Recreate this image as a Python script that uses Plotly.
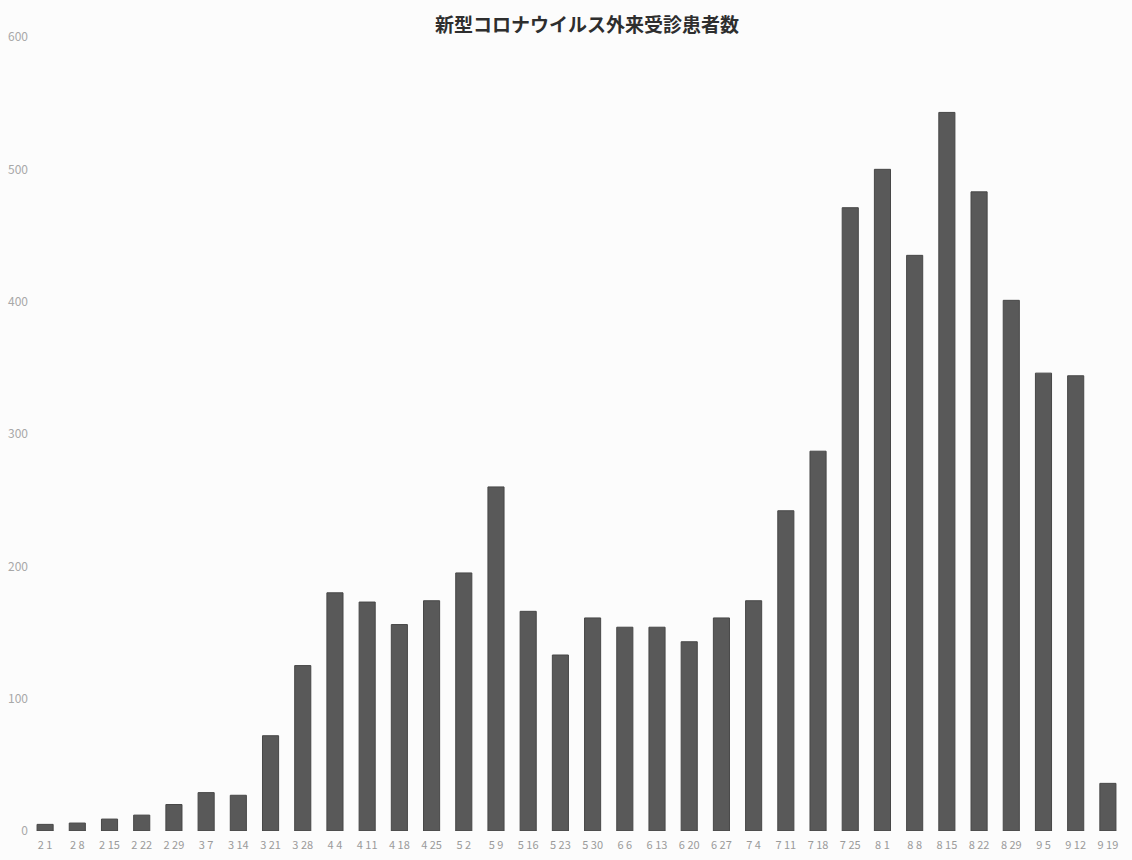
import plotly.graph_objects as go

# Weekly outpatient counts (week starting dates)
weeks = [
    "2 1", "2 8", "2 15", "2 22", "2 29", "3 7", "3 14", "3 21", "3 28",
    "4 4", "4 11", "4 18", "4 25", "5 2", "5 9", "5 16", "5 23", "5 30",
    "6 6", "6 13", "6 20", "6 27", "7 4", "7 11", "7 18", "7 25",
    "8 1", "8 8", "8 15", "8 22", "8 29", "9 5", "9 12", "9 19",
]
patients = [
    5, 6, 9, 12, 20, 29, 27, 72, 125,
    180, 173, 156, 174, 195, 260, 166, 133, 161,
    154, 154, 143, 161, 174, 242, 287, 471,
    500, 435, 543, 483, 401, 346, 344, 36,
]
y_ticks = [0, 100, 200, 300, 400, 500, 600]

title_text = "新型コロナウイルス外来受診患者数"

fig = go.Figure(
    go.Bar(
        x=weeks,
        y=patients,
        marker=dict(color="#595959", line=dict(color="#474747", width=1)),
        hoverinfo="x+y",
    )
)

fig.update_layout(
    width=1132,
    height=860,
    margin=dict(l=29, r=8, t=37, b=26),
    paper_bgcolor="#fcfcfc",
    plot_bgcolor="#fcfcfc",
    bargap=0.5,
    showlegend=False,
    font=dict(family="Noto Sans CJK JP, Noto Sans, sans-serif", color="#a0a0a0"),
    title=dict(
        text=title_text,
        x=587 / 1132,
        xanchor="center",
        y=1 - 25 / 860,
        yanchor="middle",
        font=dict(size=19, color="#2e2e2e", family="Noto Sans CJK JP", weight="bold"),
    ),
    xaxis=dict(
        type="category",
        showgrid=False,
        showline=False,
        zeroline=False,
        ticks="",
        tickangle=0,
        ticklabelstandoff=6,
        tickfont=dict(size=11, color="#9a9a9a"),
    ),
    yaxis=dict(
        range=[0, 600],
        tickvals=y_ticks,
        showgrid=False,
        showline=False,
        zeroline=False,
        ticks="",
        ticklabelstandoff=0,
        tickfont=dict(size=12, color="#a8a8a8"),
    ),
)

fig.write_html("out.html")
